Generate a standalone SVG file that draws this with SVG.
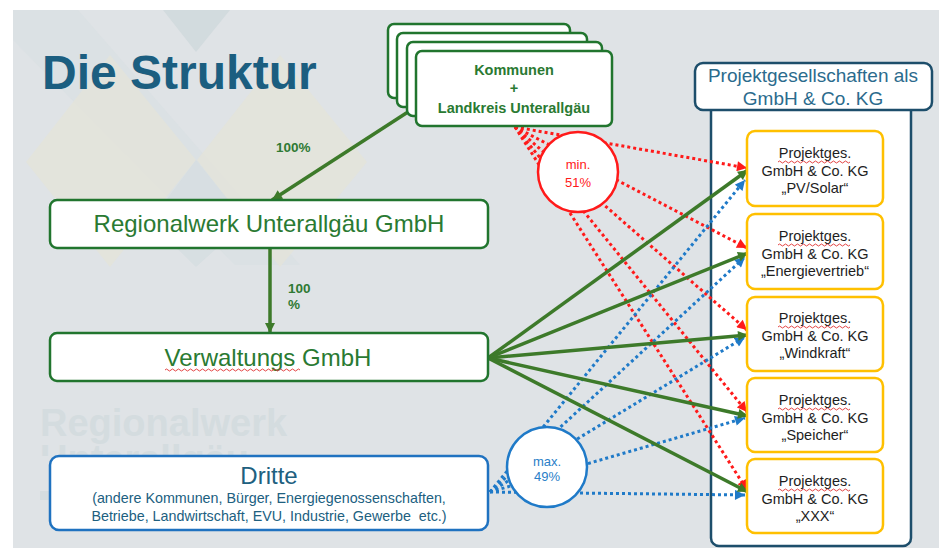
<svg xmlns="http://www.w3.org/2000/svg" width="939" height="548" viewBox="0 0 939 548">
<defs>
<style>
.bg{fill:#dfe3e6}
.gbox{fill:#fff;stroke:#21752e;stroke-width:2.5}
.gtxt{font-family:"Liberation Sans",Arial,sans-serif;fill:#2a7a32;text-anchor:middle}
.pbox{fill:#fff;stroke:#ffc000;stroke-width:2.5}
.ptxt{font-family:"Liberation Sans",Arial,sans-serif;font-size:14.5px;fill:#1e1e1e;text-anchor:middle}
.green{stroke:#3d7a2a;stroke-width:3.5;fill:none}
.red{stroke:#ff1a1a;stroke-width:3;stroke-dasharray:3 3;fill:none}
.blue{stroke:#1f7ac8;stroke-width:3;stroke-dasharray:3 3;fill:none}
.wavy{stroke:#e03030;stroke-width:0.9;fill:none}
.lbl{font-family:"Liberation Sans",Arial,sans-serif;font-size:13.5px;font-weight:bold;fill:#2f7a34}
.wm{font-family:"Liberation Sans",Arial,sans-serif;font-size:38px;font-weight:bold;fill:#d4dcdf}
</style>
<marker id="ag" viewBox="0 0 10 10" refX="10" refY="5" markerWidth="11" markerHeight="10" markerUnits="userSpaceOnUse" orient="auto"><path d="M0,0 L10,5 L0,10 z" fill="#3d7a2a"/></marker>
<marker id="ar" viewBox="0 0 10 10" refX="10" refY="5" markerWidth="11" markerHeight="10" markerUnits="userSpaceOnUse" orient="auto"><path d="M0,0 L10,5 L0,10 z" fill="#ff1a1a"/></marker>
<marker id="ab" viewBox="0 0 10 10" refX="10" refY="5" markerWidth="11" markerHeight="10" markerUnits="userSpaceOnUse" orient="auto"><path d="M0,0 L10,5 L0,10 z" fill="#1f7ac8"/></marker>
<clipPath id="wmclip"><rect x="13" y="380" width="400" height="76"/></clipPath>
</defs>

<rect x="0" y="0" width="939" height="548" fill="#fff"/>
<rect class="bg" x="13" y="10" width="926" height="538"/>

<g id="background-decor">
<polygon points="163,10 230,10 196,52" fill="#d2dbde"/>
<polygon points="13,10 78,10 300,265 235,265 13,40" fill="#d8dfe2" opacity="0.7"/>
<polygon points="110,55 196,160 110,267 26,162" fill="#e3e3d9" opacity="0.8"/>
<polygon points="280,55 367,162 280,267 197,160" fill="#e3e3d9" opacity="0.8"/>
<polygon points="196,160 246,222 196,267 150,222" fill="#d6dee1" opacity="0.9"/>
<text class="wm" x="40" y="436">Regionalwerk</text>
<text class="wm" x="40" y="472" clip-path="url(#wmclip)">Unterallgäu</text>
<rect x="40" y="491" width="12" height="9" fill="#d4dcdf"/>
</g>

<text id="title" x="42" y="89" font-family="Liberation Sans,Arial,sans-serif" font-size="48" font-weight="bold" fill="#1b5e80">Die Struktur</text>

<g id="projektgesellschaften">
<rect x="711" y="95" width="200" height="451" rx="8" fill="#fff" stroke="#1d4e6b" stroke-width="2.5"/>
<rect x="695" y="63" width="237" height="47" rx="8" fill="#fff" stroke="#1d4e6b" stroke-width="2.5"/>
<text x="813" y="82" font-family="Liberation Sans,Arial,sans-serif" font-size="19" fill="#2b6b8d" text-anchor="middle">Projektgesellschaften als</text>
<text x="813" y="105" font-family="Liberation Sans,Arial,sans-serif" font-size="19" fill="#2b6b8d" text-anchor="middle">GmbH &amp; Co. KG</text>
</g>

<g id="connectors">
<line class="green" x1="411" y1="110" x2="272" y2="200" marker-end="url(#ag)"/>
<line class="green" x1="270" y1="248" x2="270" y2="333" marker-end="url(#ag)"/>
<text class="lbl" x="276" y="152">100%</text>
<text class="lbl" x="288" y="293">100</text>
<text class="lbl" x="288" y="309">%</text>

<g id="red-lines">
<line class="red" x1="515" y1="127" x2="747" y2="168" marker-end="url(#ar)"/>
<line class="red" x1="515" y1="127" x2="747" y2="248" marker-end="url(#ar)"/>
<line class="red" x1="515" y1="127" x2="747" y2="330" marker-end="url(#ar)"/>
<line class="red" x1="515" y1="127" x2="747" y2="412" marker-end="url(#ar)"/>
<line class="red" x1="515" y1="127" x2="747" y2="490" marker-end="url(#ar)"/>
</g>
<g id="blue-lines">
<line class="blue" x1="490" y1="492" x2="745" y2="180" marker-end="url(#ab)"/>
<line class="blue" x1="490" y1="492" x2="745" y2="257" marker-end="url(#ab)"/>
<line class="blue" x1="490" y1="492" x2="745" y2="337" marker-end="url(#ab)"/>
<line class="blue" x1="490" y1="492" x2="745" y2="418" marker-end="url(#ab)"/>
<line class="blue" x1="490" y1="492" x2="745" y2="495" marker-end="url(#ab)"/>
</g>
<g id="green-lines">
<line class="green" x1="488" y1="358" x2="748" y2="170" marker-end="url(#ag)"/>
<line class="green" x1="488" y1="358" x2="748" y2="253" marker-end="url(#ag)"/>
<line class="green" x1="488" y1="358" x2="748" y2="335" marker-end="url(#ag)"/>
<line class="green" x1="488" y1="358" x2="748" y2="416" marker-end="url(#ag)"/>
<line class="green" x1="488" y1="358" x2="748" y2="492" marker-end="url(#ag)"/>
</g>
</g>

<g id="min51">
<circle cx="578" cy="172" r="40" fill="#fff" stroke="#ff1a1a" stroke-width="2.5"/>
<text x="578" y="169" font-family="Liberation Sans,Arial,sans-serif" font-size="13" fill="#ff1a1a" text-anchor="middle">min.</text>
<text x="578" y="187" font-family="Liberation Sans,Arial,sans-serif" font-size="13" fill="#ff1a1a" text-anchor="middle">51%</text>
</g>
<g id="max49">
<circle cx="547" cy="467" r="40" fill="#fff" stroke="#1f7ac8" stroke-width="2.5"/>
<text x="547" y="466" font-family="Liberation Sans,Arial,sans-serif" font-size="13" fill="#2a80c8" text-anchor="middle">max.</text>
<text x="547" y="481" font-family="Liberation Sans,Arial,sans-serif" font-size="13" fill="#2a80c8" text-anchor="middle">49%</text>
</g>

<g id="kommunen">
<rect class="gbox" x="388" y="24" width="182" height="74" rx="6"/>
<rect class="gbox" x="397" y="33" width="190" height="74" rx="6"/>
<rect class="gbox" x="407" y="42" width="195" height="74" rx="6"/>
<rect class="gbox" x="416" y="51" width="196" height="75" rx="6"/>
<text class="gtxt" x="514" y="75" font-size="14.5" font-weight="bold">Kommunen</text>
<text class="gtxt" x="514" y="93" font-size="14.5" font-weight="bold">+</text>
<text class="gtxt" x="514" y="113" font-size="14.5" font-weight="bold">Landkreis Unterallgäu</text>
</g>

<g id="regionalwerk">
<rect class="gbox" x="50" y="200" width="438" height="48" rx="7"/>
<text class="gtxt" x="269" y="232" font-size="24">Regionalwerk Unterallgäu GmbH</text>
</g>

<g id="verwaltungs">
<rect class="gbox" x="50" y="333" width="438" height="48" rx="7"/>
<text class="gtxt" x="268" y="366" font-size="24">Verwaltungs GmbH</text>
<path class="wavy" d="M165,370 q1.5,-2 3,0 t3,0 t3,0 t3,0 t3,0 t3,0 t3,0 t3,0 t3,0 t3,0 t3,0 t3,0 t3,0 t3,0 t3,0 t3,0 t3,0 t3,0 t3,0 t3,0 t3,0 t3,0 t3,0 t3,0 t3,0 t3,0 t3,0 t3,0 t3,0 t3,0 t3,0 t3,0 t3,0 t3,0 t3,0 t3,0 t3,0 t3,0 t3,0 t3,0 t3,0 t3,0 t3,0 t3,0 t3,0"/>
</g>

<g id="dritte">
<rect x="50" y="456" width="438" height="74" rx="9" fill="#fff" stroke="#1f72c0" stroke-width="2.5"/>
<text x="269" y="484" font-family="Liberation Sans,Arial,sans-serif" font-size="24" fill="#20607f" text-anchor="middle">Dritte</text>
<text x="269" y="503" font-family="Liberation Sans,Arial,sans-serif" font-size="14.3" fill="#20607f" text-anchor="middle">(andere Kommunen, Bürger, Energiegenossenschaften,</text>
<text x="269" y="521" font-family="Liberation Sans,Arial,sans-serif" font-size="14.3" fill="#20607f" text-anchor="middle" xml:space="preserve">Betriebe, Landwirtschaft, EVU, Industrie, Gewerbe  etc.)</text>
</g>

<g id="pg-pv">
<rect class="pbox" x="747" y="131" width="136" height="75" rx="8"/>
<text class="ptxt" x="815" y="158">Projektges.</text>
<text class="ptxt" x="815" y="176">GmbH &amp; Co. KG</text>
<text class="ptxt" x="815" y="193">„PV/Solar“</text>
</g>
<g id="pg-energie">
<rect class="pbox" x="747" y="214" width="136" height="75" rx="8"/>
<text class="ptxt" x="815" y="241">Projektges.</text>
<text class="ptxt" x="815" y="259">GmbH &amp; Co. KG</text>
<text class="ptxt" x="815" y="276">„Energievertrieb“</text>
</g>
<g id="pg-wind">
<rect class="pbox" x="747" y="297" width="136" height="74" rx="8"/>
<text class="ptxt" x="815" y="323">Projektges.</text>
<text class="ptxt" x="815" y="341">GmbH &amp; Co. KG</text>
<text class="ptxt" x="815" y="358">„Windkraft“</text>
</g>
<g id="pg-speicher">
<rect class="pbox" x="747" y="378" width="136" height="74" rx="8"/>
<text class="ptxt" x="815" y="405">Projektges.</text>
<text class="ptxt" x="815" y="423">GmbH &amp; Co. KG</text>
<text class="ptxt" x="815" y="440">„Speicher“</text>
</g>
<g id="pg-xxx">
<rect class="pbox" x="747" y="459" width="136" height="74" rx="8"/>
<text class="ptxt" x="815" y="486">Projektges.</text>
<text class="ptxt" x="815" y="504">GmbH &amp; Co. KG</text>
<text class="ptxt" x="815" y="521">„XXX“</text>
</g>

<g id="spellcheck-underlines" class="wavy">
<path d="M778,162 q1.5,-2 3,0 t3,0 t3,0 t3,0 t3,0 t3,0 t3,0 t3,0 t3,0 t3,0 t3,0 t3,0 t3,0 t3,0 t3,0 t3,0 t3,0 t3,0 t3,0 t3,0 t3,0 t3,0 t3,0 t3,0"/>
<path d="M778,245 q1.5,-2 3,0 t3,0 t3,0 t3,0 t3,0 t3,0 t3,0 t3,0 t3,0 t3,0 t3,0 t3,0 t3,0 t3,0 t3,0 t3,0 t3,0 t3,0 t3,0 t3,0 t3,0 t3,0 t3,0 t3,0"/>
<path d="M778,327 q1.5,-2 3,0 t3,0 t3,0 t3,0 t3,0 t3,0 t3,0 t3,0 t3,0 t3,0 t3,0 t3,0 t3,0 t3,0 t3,0 t3,0 t3,0 t3,0 t3,0 t3,0 t3,0 t3,0 t3,0 t3,0"/>
<path d="M778,409 q1.5,-2 3,0 t3,0 t3,0 t3,0 t3,0 t3,0 t3,0 t3,0 t3,0 t3,0 t3,0 t3,0 t3,0 t3,0 t3,0 t3,0 t3,0 t3,0 t3,0 t3,0 t3,0 t3,0 t3,0 t3,0"/>
<path d="M778,490 q1.5,-2 3,0 t3,0 t3,0 t3,0 t3,0 t3,0 t3,0 t3,0 t3,0 t3,0 t3,0 t3,0 t3,0 t3,0 t3,0 t3,0 t3,0 t3,0 t3,0 t3,0 t3,0 t3,0 t3,0 t3,0"/>
</g>
</svg>
